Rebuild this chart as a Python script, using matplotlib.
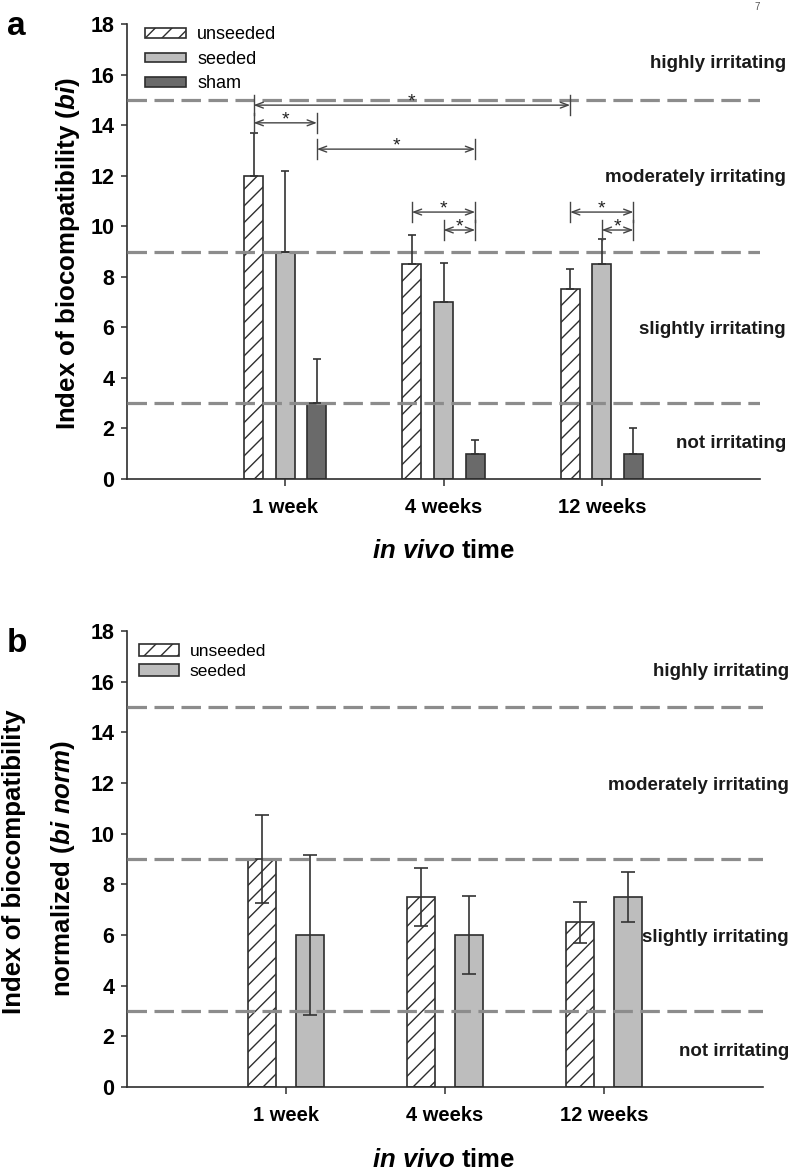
import matplotlib
matplotlib.use("Agg")
import matplotlib.pyplot as plt
import matplotlib.transforms as mtransforms
import numpy as np

plt.rcParams['font.family'] = ['Liberation Sans', 'DejaVu Sans']
plt.rcParams['mathtext.fontset'] = 'custom'
plt.rcParams['mathtext.rm'] = 'Liberation Sans:bold'
plt.rcParams['mathtext.it'] = 'Liberation Sans:italic:bold'
plt.rcParams['mathtext.bf'] = 'Liberation Sans:bold'
plt.rcParams['hatch.linewidth'] = 1.0

# ---------------- data ----------------
categories = ['1 week', '4 weeks', '12 weeks']

a_unseeded = [12.0, 8.5, 7.5]
a_unseeded_err = [1.7, 1.15, 0.8]
a_seeded = [9.0, 7.0, 8.5]
a_seeded_err = [3.2, 1.55, 1.0]
a_sham = [3.0, 1.0, 1.0]
a_sham_err = [1.75, 0.55, 1.0]

b_unseeded = [9.0, 7.5, 6.5]
b_unseeded_err = [1.72, 1.16, 0.82]
b_seeded = [6.0, 6.0, 7.5]
b_seeded_err = [3.17, 1.54, 1.0]

thresholds = [3, 9, 15]
zone_bounds = [0, 3, 9, 15, 18]
zone_labels = ['not irritating', 'slightly irritating',
               'moderately irritating', 'highly irritating']

series_names_a = ['unseeded', 'seeded', 'sham']
series_names_b = ['unseeded', 'seeded']

# significance brackets: (group1, series1, group2, series2, level)
brackets = [
    (0, 0, 2, 0, 14.79),
    (0, 0, 0, 2, 14.09),
    (0, 2, 1, 2, 13.05),
    (1, 0, 1, 2, 10.56),
    (1, 1, 1, 2, 9.85),
    (2, 0, 2, 2, 10.56),
    (2, 1, 2, 2, 9.85),
]

# ---------------- style ----------------
EDGE = '#2e2e2e'
SEEDED = '#bdbdbd'
SHAM = '#6a6a6a'
DASH = '#8c8c8c'
ERR = '#333333'

W, H = 792, 1170
fig = plt.figure(figsize=(W / 100, H / 100), dpi=100)

def px_axes(l, t, r, b):
    return fig.add_axes([l / W, 1 - b / H, (r - l) / W, (b - t) / H])

ax_a = px_axes(127, 24, 760, 479)
ax_b = px_axes(127, 631, 763, 1087)

x = np.arange(len(categories))


def style_axes(ax):
    ax.set_xlim(-1, 3)
    ax.set_ylim(0, 18)
    ax.set_yticks(np.arange(0, 19, 2))
    ax.set_xticks(x)
    ax.set_xticklabels(categories, fontsize=14.5, fontweight='bold')
    for lab in ax.get_yticklabels():
        lab.set_fontsize(15.5)
        lab.set_fontweight('bold')
    for s in ['top', 'right']:
        ax.spines[s].set_visible(False)
    for s in ['left', 'bottom']:
        ax.spines[s].set_color(EDGE)
        ax.spines[s].set_linewidth(1.2)
    ax.tick_params(axis='y', direction='out', length=4, width=1.1, color=EDGE, pad=5)
    ax.tick_params(axis='x', direction='out', length=5, width=1.1, color=EDGE, pad=9)
    for t in thresholds:
        ax.axhline(t, color=DASH, lw=2.3, ls=(0, (6.1, 2.35)), zorder=3)
    trans = mtransforms.blended_transform_factory(ax.transAxes, ax.transData)
    for i, lab in enumerate(zone_labels):
        ymid = (zone_bounds[i] + zone_bounds[i + 1]) / 2 - 0.08
        ax.text(1.041, ymid, lab, transform=trans, ha='right', va='center',
                fontsize=13.5, fontweight='bold', color='#1a1a1a', clip_on=False)


# ---------------- panel a ----------------
wa = 0.12
offs_a = [-0.2, 0.0, 0.2]
vals_a = [a_unseeded, a_seeded, a_sham]
errs_a = [a_unseeded_err, a_seeded_err, a_sham_err]
fills_a = ['white', SEEDED, SHAM]
hatches_a = ['//', None, None]
for k in range(3):
    ax_a.bar(x + offs_a[k], vals_a[k], width=wa, color=fills_a[k], edgecolor=EDGE,
             linewidth=1.2, hatch=hatches_a[k], label=series_names_a[k], zorder=2)
    ax_a.errorbar(x + offs_a[k], vals_a[k],
                  yerr=[np.zeros(3), errs_a[k]], fmt='none', ecolor=ERR,
                  elinewidth=1.2, capsize=3, capthick=1.2, zorder=4)
style_axes(ax_a)

# significance brackets
BR = '#444444'
for g1, s1, g2, s2, lev in brackets:
    x1 = x[g1] + offs_a[s1]
    x2 = x[g2] + offs_a[s2]
    for xx in (x1, x2):
        ax_a.plot([xx, xx], [lev - 0.4, lev + 0.4], color=BR, lw=1.0, zorder=5)
    ax_a.annotate('', xy=(x2, lev), xytext=(x1, lev),
                  arrowprops=dict(arrowstyle='<->,head_length=0.4,head_width=0.15',
                                  color=BR, lw=1.0, shrinkA=0, shrinkB=0,
                                  mutation_scale=14), zorder=5)
    ax_a.text((x1 + x2) / 2, lev - 0.05, '*', ha='center', va='baseline',
              fontsize=14, color='#222222', zorder=5)

leg_a = ax_a.legend(loc='upper left', bbox_to_anchor=(0.028, 0.995), frameon=False,
                    fontsize=13, handlelength=2.3, handleheight=0.45,
                    labelspacing=0.42, borderpad=0, borderaxespad=0, handletextpad=0.6)

# ---------------- panel b ----------------
wb = 0.18
offs_b = [-0.15, 0.15]
vals_b = [b_unseeded, b_seeded]
errs_b = [b_unseeded_err, b_seeded_err]
fills_b = ['white', SEEDED]
hatches_b = ['//', None]
for k in range(2):
    ax_b.bar(x + offs_b[k], vals_b[k], width=wb, color=fills_b[k], edgecolor=EDGE,
             linewidth=1.2, hatch=hatches_b[k], label=series_names_b[k], zorder=2)
    ax_b.errorbar(x + offs_b[k], vals_b[k], yerr=errs_b[k], fmt='none', ecolor=ERR,
                  elinewidth=1.2, capsize=4.8, capthick=1.2, zorder=4)
style_axes(ax_b)

leg_b = ax_b.legend(loc='upper left', bbox_to_anchor=(0.019, 0.972), frameon=False,
                    fontsize=12.5, handlelength=2.3, handleheight=0.75,
                    labelspacing=0.25, borderpad=0, borderaxespad=0, handletextpad=0.6)

# ---------------- labels ----------------
def fx(px):
    return px / W

def fy(py):
    return 1 - py / H

fig.text(fx(68), fy(254), r'Index of biocompatibility ($\it{bi}$)', rotation=90,
         ha='center', va='center', fontsize=18.6, fontweight='bold')
fig.text(fx(14), fy(862), 'Index of biocompatibility', rotation=90,
         ha='center', va='center', fontsize=18.6, fontweight='bold')
fig.text(fx(63), fy(868), r'normalized ($\it{bi\ norm}$)', rotation=90,
         ha='center', va='center', fontsize=18.6, fontweight='bold')

fig.text(fx(444), fy(558), r'$\it{in\ vivo}$ time', ha='center', va='baseline',
         fontsize=18.5, fontweight='bold')
fig.text(fx(444), fy(1167), r'$\it{in\ vivo}$ time', ha='center', va='baseline',
         fontsize=18.5, fontweight='bold')

fig.text(fx(7), fy(35), 'a', ha='left', va='baseline', fontsize=24, fontweight='bold')
fig.text(fx(7), fy(652), 'b', ha='left', va='baseline', fontsize=24, fontweight='bold')
fig.text(fx(757), fy(7), '7', ha='center', va='center', fontsize=7, color='#555555')

fig.savefig('out.png', dpi=100)
